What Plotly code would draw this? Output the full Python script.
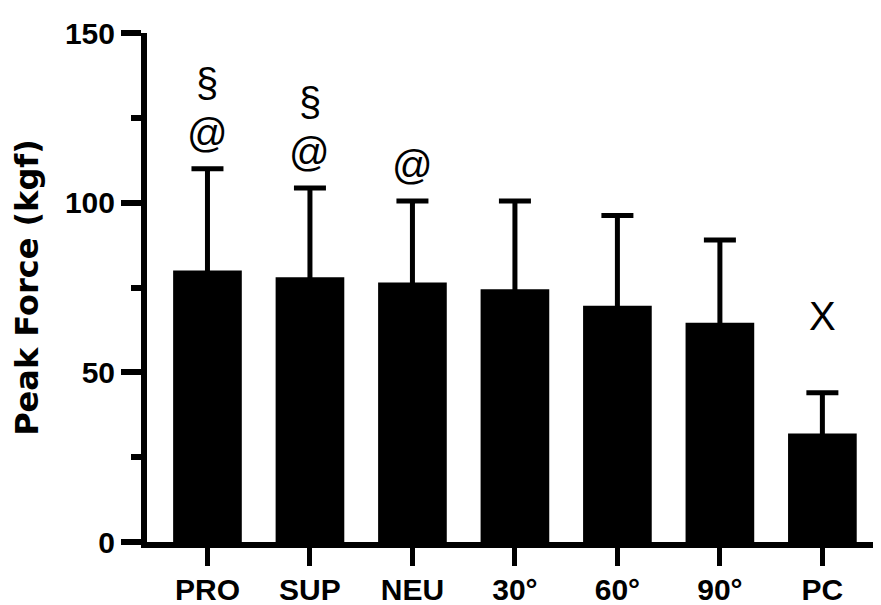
import plotly.graph_objects as go

categories = ["PRO", "SUP", "NEU", "30°", "60°", "90°", "PC"]
mean_force = [80.0, 78.0, 76.5, 74.5, 69.6, 64.6, 32.0]
sd_force = [30.0, 26.3, 24.0, 26.0, 26.6, 24.4, 12.0]
sig_at = ["@", "@", "@", "", "", "", ""]
sig_sect = ["§", "§", "", "", "", "", ""]
sig_x = ["", "", "", "", "", "", "X"]

FONT = "Liberation Sans, Arial, sans-serif"

fig = go.Figure()
fig.add_trace(go.Bar(
    x=categories,
    y=mean_force,
    marker=dict(color="black", line=dict(width=0)),
    error_y=dict(type="data", symmetric=True, array=sd_force,
                 color="black", thickness=5, width=16),
    showlegend=False,
))

annotations = []
for labels, shift in ((sig_at, 36), (sig_sect, 86), (sig_x, 77)):
    for cat, m, s, lab in zip(categories, mean_force, sd_force, labels):
        if lab:
            annotations.append(dict(
                x=cat, y=m + s, xref="x", yref="y", text=lab,
                showarrow=False, yanchor="middle", yshift=shift,
                font=dict(family=FONT, size=40, color="black"),
            ))

fig.update_layout(
    width=881, height=605,
    margin=dict(l=139, r=0, t=25, b=71),
    plot_bgcolor="white", paper_bgcolor="white",
    bargap=0.33,
    annotations=annotations,
)
fig.update_xaxes(
    range=[-0.59, 6.65],
    automargin=False,
    showline=True, linecolor="black", linewidth=6,
    ticks="outside", ticklen=18, tickwidth=5, tickcolor="black",
    ticklabelstandoff=-2,
    tickfont=dict(family=FONT, size=30, color="black", weight="bold"),
    showgrid=False, zeroline=False,
)
fig.update_yaxes(
    range=[0, 150],
    automargin=False,
    tickvals=[0, 50, 100, 150],
    showline=True, linecolor="black", linewidth=6,
    ticks="outside", ticklen=20, tickwidth=6, tickcolor="black",
    minor=dict(ticks="outside", ticklen=10, tickwidth=6, tickcolor="black",
               tickvals=[25, 75, 125]),
    tickfont=dict(family=FONT, size=30, color="black", weight="bold"),
    title=dict(text="Peak Force (kgf)", standoff=20,
               font=dict(family="DejaVu Sans, sans-serif", size=32,
                         color="black", weight="bold")),
    showgrid=False, zeroline=False,
)

fig.write_html("out.html")
